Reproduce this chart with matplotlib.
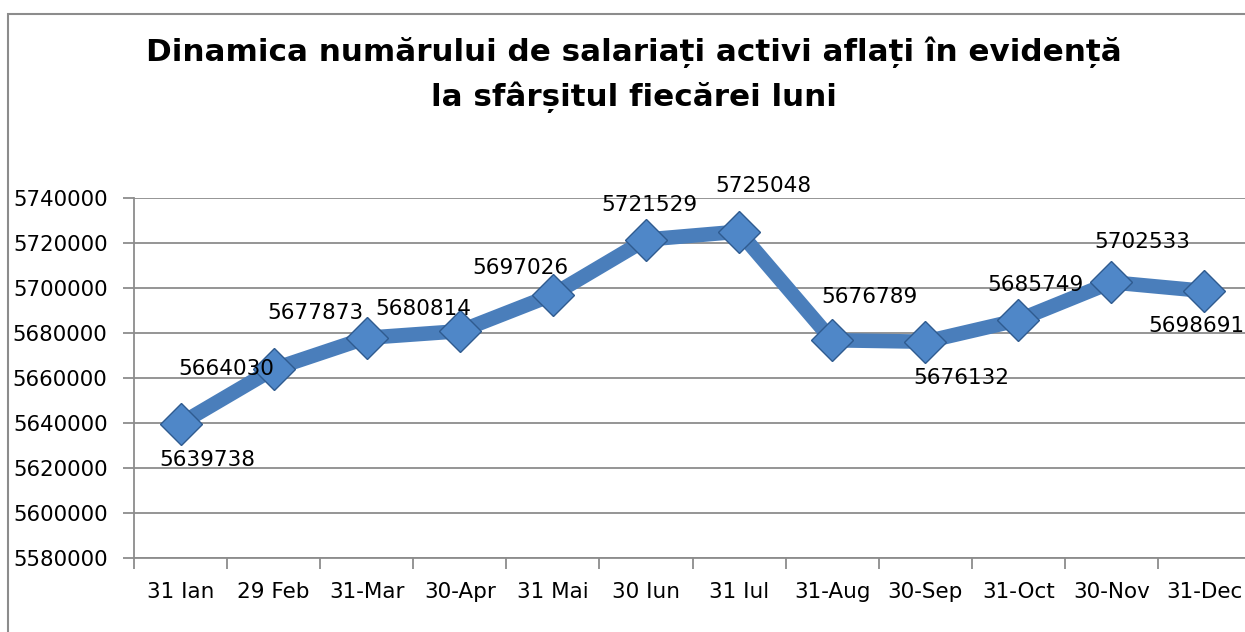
import numpy as np
import matplotlib
matplotlib.use("Agg")
import matplotlib.pyplot as plt
from matplotlib.patches import Rectangle

# date (categorii) si valori
luni = ["31 Ian", "29 Feb", "31-Mar", "30-Apr", "31 Mai", "30 Iun",
        "31 Iul", "31-Aug", "30-Sep", "31-Oct", "30-Nov", "31-Dec"]
salariati = [5639738, 5664030, 5677873, 5680814, 5697026, 5721529,
             5725048, 5676789, 5676132, 5685749, 5702533, 5698691]
y_ticks = list(range(5580000, 5740001, 20000))

# deplasarea etichetelor (pixeli)
offs = [(27, -36), (-47, 0), (-51, 25), (-36, 22), (-33, 27), (3, 35),
        (24, 46), (37, 43), (36, -36), (17, 35), (31, 40), (-8, -35)]

W, H = 1245, 632
fig = plt.figure(figsize=(W / 100, H / 100), dpi=100)

# chenarul exterior
fig.patches.append(Rectangle((8 / W, -0.1), 1.2, (H - 14) / H + 0.1,
                             transform=fig.transFigure, fill=False,
                             edgecolor="#8c8c8c", linewidth=1.5))

ax = fig.add_axes([134 / W, 74 / H, 1117 / W, 360 / H])
x = np.arange(len(luni))

ax.plot(x, salariati, color="#4a7ebb", linewidth=10.5, solid_capstyle="round",
        solid_joinstyle="round", zorder=3)
ax.plot(x, salariati, linestyle="none", marker="D", markersize=21,
        markerfacecolor="#4f87c8", markeredgecolor="#2f5b8f",
        markeredgewidth=1, zorder=4)

for xi, v, (dx, dy) in zip(x, salariati, offs):
    ax.annotate(str(v), (xi, v), xytext=(dx, dy), textcoords="offset pixels",
                ha="center", va="center", fontsize=15.5, color="black", zorder=5)

ax.set_xlim(-0.5, len(luni) - 0.5)
ax.set_ylim(5580000, 5740000)
ax.set_yticks(y_ticks)
ax.set_yticklabels([str(t) for t in y_ticks], fontsize=15.3)
ax.set_xticks(x)
ax.set_xticklabels(luni, fontsize=15.5)
ax.set_xticks(np.arange(-0.5, len(luni)), minor=True)
ax.tick_params(axis="x", which="major", length=0, pad=17)
ax.tick_params(axis="x", which="minor", length=8, color="#8c8c8c", width=1.3)
ax.tick_params(axis="y", length=8, color="#8c8c8c", width=1.3, pad=11)

ax.grid(axis="y", color="#8c8c8c", linewidth=1.3)
ax.set_axisbelow(True)
for s in ["top", "right"]:
    ax.spines[s].set_visible(False)
ax.spines["left"].set_color("#8c8c8c")
ax.spines["bottom"].set_color("#8c8c8c")
ax.spines["left"].set_linewidth(1.3)
ax.spines["bottom"].set_linewidth(1.3)

fig.text(634 / W, 1 - 52 / H, "Dinamica numărului de salariați activi aflați în evidență",
         ha="center", va="center", fontsize=22.3, fontweight="bold")
fig.text(634 / W, 1 - 97 / H, "la sfârșitul fiecărei luni",
         ha="center", va="center", fontsize=22.3, fontweight="bold")

fig.savefig("out.png", dpi=100)
